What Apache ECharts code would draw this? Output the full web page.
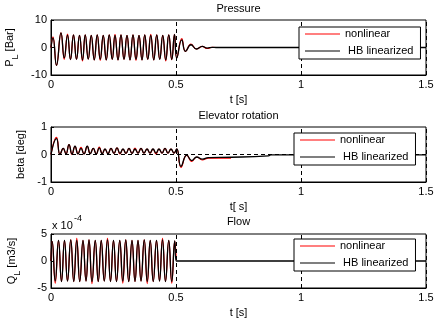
<!DOCTYPE html>
<html>
<head>
<meta charset="utf-8">
<script src="https://cdn.jsdelivr.net/npm/echarts@6/dist/echarts.min.js"></script>
<style>
  body { margin: 0; background: #fff; }
  #myChart { width: 439px; height: 321px; }
</style>
</head>
<body>
<div id="myChart"></div>
<script>
// time axis ticks
const xTicks = [0, 0.5, 1, 1.5];

// pressure [Bar] -- extremes
const pressureT = [0, 0.008, 0.022, 0.040, 0.053, 0.066, 0.078, 0.090, 0.102, 0.114, 0.126, 0.137, 0.149, 0.161, 0.173,
  0.185, 0.197, 0.209, 0.221, 0.233, 0.245, 0.256, 0.268, 0.280, 0.292, 0.304, 0.316, 0.328, 0.340, 0.352, 0.364,
  0.375, 0.387, 0.399, 0.411, 0.423, 0.435, 0.447, 0.459, 0.471, 0.483, 0.494, 0.503, 0.523, 0.538, 0.560, 0.582,
  0.605, 0.625, 0.645, 0.660, 1.5];
const pressureHB = [0, 3.5, -6.5, 5.3, -3.8, 4.5, -4.4, 4.6, -4.3, 4.4, -4.5, 4.6, -4.2, 4.4, -4.5, 4.6, -4.3, 4.4,
  -4.5, 4.6, -4.3, 4.4, -4.5, 4.6, -4.3, 4.4, -4.5, 4.6, -4.3, 4.4, -4.5, 4.6, -4.3, 4.4, -4.5, 4.6, -4.3, 4.4, -4.5,
  4.6, -4.4, 4.8, -3.8, 2.8, -1.4, 1.0, -0.55, 0.4, -0.2, 0.05, 0, 0];
const pressureNL = [0, 3.9, -6.5, 5.3, -4.3, 4.9, -4.4, 4.6, -4.3, 4.4, -4.9, 4.6, -4.2, 4.4, -4.5, 4.6, -4.7, 4.4,
  -4.5, 4.6, -4.3, 4.8, -4.5, 4.6, -4.3, 4.4, -4.5, 4.6, -4.7, 4.4, -4.5, 4.6, -4.3, 4.8, -4.5, 4.6, -4.3, 4.4, -4.9,
  4.6, -4.4, 4.8, -3.8, 3.2, -1.4, 1.2, -0.55, 0.4, -0.35, 0.1, 0];

// elevator rotation beta [deg]
const betaT = [0, 0.022, 0.036, 0.049, 0.060, 0.072, 0.084, 0.096, 0.108, 0.120, 0.132, 0.145, 0.157, 0.169, 0.181,
  0.193, 0.205, 0.216, 0.228, 0.240, 0.252, 0.264, 0.276, 0.288, 0.300, 0.312, 0.324, 0.336, 0.348, 0.360, 0.372,
  0.384, 0.396, 0.408, 0.420, 0.432, 0.444, 0.456, 0.468, 0.480, 0.492, 0.503, 0.520, 0.543, 0.563, 0.583, 0.605,
  0.630, 0.720, 0.870, 0.880, 1.5];
const betaHB = [0, 0.58, 0.0, 0.22, 0.02, 0.36, 0.02, 0.3, 0.02, 0.22, 0.02, 0.3, 0.03, 0.22, 0.02, 0.24, 0.03, 0.2,
  0.03, 0.22, 0.04, 0.24, 0.04, 0.2, 0.04, 0.22, 0.04, 0.2, 0.05, 0.22, 0.05, 0.2, 0.05, 0.2, 0.05, 0.2, 0.05, 0.22,
  0.05, 0.2, 0.05, 0.2, -0.43, -0.02, -0.22, -0.09, -0.17, -0.11, -0.1, -0.05, -0.01, -0.01];
const betaNL = [0, 0.62, 0.0, 0.22, 0.02, 0.36, 0.0, 0.3, 0.02, 0.26, 0.02, 0.3, 0.03, 0.22, 0.02, 0.27, 0.03, 0.2,
  0.03, 0.22, 0.04, 0.24, 0.02, 0.2, 0.04, 0.22, 0.04, 0.23, 0.05, 0.22, 0.05, 0.2, 0.05, 0.2, 0.02, 0.2, 0.05, 0.22,
  0.05, 0.2, 0.05, 0.2, -0.47, -0.02, -0.25, -0.09, -0.2, -0.13, -0.13];

// flow Q_L [m3/s] x 1e-4
const flowT = [0, 0.005, 0.017, 0.030, 0.042, 0.054, 0.066, 0.079, 0.091, 0.103, 0.115, 0.128, 0.140, 0.152, 0.164,
  0.177, 0.189, 0.201, 0.213, 0.226, 0.238, 0.250, 0.262, 0.275, 0.287, 0.299, 0.311, 0.324, 0.336, 0.348, 0.360,
  0.373, 0.385, 0.397, 0.409, 0.422, 0.434, 0.446, 0.458, 0.471, 0.483, 0.495, 0.501, 1.5];
const flowHB = [0, 3.6, -3.7, 3.8, -3.8, 3.8, -3.7, 3.9, -3.8, 3.8, -3.8, 3.8, -3.7, 3.9, -3.8, 3.8, -3.8, 3.8, -3.7,
  3.9, -3.8, 3.8, -3.8, 3.8, -3.7, 3.9, -3.8, 3.8, -3.8, 3.8, -3.7, 3.9, -3.8, 3.8, -3.8, 3.8, -3.7, 3.9, -3.8, 3.8,
  -3.8, 3.7, 0, 0];
const flowNL = [0, 3.6, -4.1, 3.8, -3.8, 3.8, -3.7, 3.9, -3.8, 4.2, -3.8, 3.8, -3.7, 3.9, -4.2, 3.8, -3.8, 3.8, -3.7,
  4.2, -3.8, 3.8, -3.8, 3.8, -4.1, 3.9, -3.8, 3.8, -3.8, 3.8, -3.7, 3.9, -4.2, 3.8, -3.8, 3.8, -3.7, 4.2, -3.8, 3.8,
  -4.1, 3.7, 0.2];

const yTicks = [[-10, 0, 10], [-1, 0, 1], [-5, 0, 5]];
const titles = ['Pressure', 'Elevator rotation', 'Flow'];
const xNames = ['t [s]', 't[ s]', 't [s]'];
const yNames = ['{a|P}{s|L}{a| [Bar]}', '{a|beta [deg]}', '{a|Q}{s|L}{a| [m3/s]}'];

const FONT = '"Liberation Sans", Arial, sans-serif';

function pairs(t, v) {
  let out = [];
  for (let i = 0; i < v.length; i++) out.push([t[i], v[i]]);
  return out;
}

const panels = [
  {top: 20, height: 55, nameGap: 31, legendLeft: 299, legendTop: 27, t: pressureT, hb: pressureHB, nl: pressureNL},
  {top: 127, height: 55, nameGap: 22, legendLeft: 294, legendTop: 133, t: betaT, hb: betaHB, nl: betaNL},
  {top: 234, height: 54, nameGap: 29, legendLeft: 294, legendTop: 239, t: flowT, hb: flowHB, nl: flowNL}
];

let option = {
  animation: false,
  backgroundColor: '#fff',
  textStyle: {fontFamily: FONT},
  grid: [], xAxis: [], yAxis: [], series: [], legend: [], graphic: []
};

panels.forEach((p, i) => {
  option.grid.push({
    left: 51, top: p.top, width: 375, height: p.height, outerBoundsMode: 'none', containLabel: false,
    show: true, borderColor: '#000', borderWidth: 1, backgroundColor: '#fff'
  });
  option.xAxis.push({
    gridIndex: i, type: 'value', min: xTicks[0], max: xTicks[xTicks.length - 1], interval: 0.5,
    name: xNames[i], nameLocation: 'middle', nameGap: 19,
    nameTextStyle: {color: '#000', fontSize: 11, fontFamily: FONT},
    axisLine: {show: true, onZero: false, lineStyle: {color: '#000', width: 1}},
    axisTick: {show: true, inside: true, length: 3, lineStyle: {color: '#000'}},
    axisLabel: {color: '#000', fontSize: 11, margin: 4, fontFamily: FONT},
    splitLine: {show: false}
  });
  const yt = yTicks[i];
  option.yAxis.push({
    gridIndex: i, type: 'value', min: yt[0], max: yt[2], interval: yt[2],
    name: yNames[i], nameLocation: 'middle', nameGap: p.nameGap,
    nameTextStyle: {
      color: '#000', fontFamily: FONT,
      rich: {
        a: {fontSize: 11, fontFamily: FONT, color: '#000', lineHeight: 12, verticalAlign: 'top'},
        s: {fontSize: 9, fontFamily: FONT, color: '#000', lineHeight: 16, verticalAlign: 'bottom'}
      }
    },
    axisLine: {show: true, lineStyle: {color: '#000', width: 1}},
    axisTick: {show: true, inside: true, length: 3, lineStyle: {color: '#000'}},
    axisLabel: {color: '#000', fontSize: 11, margin: 4, fontFamily: FONT},
    splitLine: {show: false}
  });

  let marks = [{xAxis: 0.5}, {xAxis: 1}, {xAxis: 1.5}];
  if (i === 1) marks.push({yAxis: 0});

  option.series.push({
    name: 'nonlinear', type: 'line', xAxisIndex: i, yAxisIndex: i,
    data: pairs(p.t, p.nl), symbol: 'none', smooth: 0.5,
    lineStyle: {color: '#ff0000', width: 1.2}, itemStyle: {color: '#ff0000'}, z: 2
  });
  option.series.push({
    name: 'HB linearized', type: 'line', xAxisIndex: i, yAxisIndex: i,
    data: pairs(p.t, p.hb), symbol: 'none', smooth: 0.5,
    lineStyle: {color: '#000', width: 1.3}, itemStyle: {color: '#000'}, z: 3,
    markLine: {
      silent: true, symbol: ['none', 'none'], label: {show: false},
      lineStyle: {color: '#000', width: 1, type: [4, 3]},
      data: marks
    }
  });

  option.legend.push({
    left: p.legendLeft, top: p.legendTop, orient: 'vertical', z: 20,
    data: [
      {name: 'nonlinear', icon: 'path://M0,0H35V1H0Z', itemStyle: {color: '#ff0000', borderWidth: 0}},
      {name: 'HB linearized', icon: 'path://M0,0H35V1H0Z', itemStyle: {color: '#000', borderWidth: 0}}
    ],
    backgroundColor: '#fff', borderColor: '#000', borderWidth: 1, borderRadius: 0,
    padding: [1, 7, 2, 6], itemGap: 5, itemWidth: 35, itemHeight: 1,
    selectedMode: false,
    formatter: name => name === 'HB linearized' ? ' HB linearized' : name,
    textStyle: {color: '#000', fontSize: 11, fontFamily: FONT, lineHeight: 12}
  });

  option.graphic.push({
    type: 'text', x: 238.5, y: [9, 116, 222][i],
    style: {text: titles[i], fill: '#000', font: '11px ' + FONT, textAlign: 'center', textVerticalAlign: 'middle'}
  });
});

// exponent label of the flow axis
option.graphic.push({
  type: 'text', x: 52, y: 226,
  style: {text: 'x 10', fill: '#000', font: '11px ' + FONT, textAlign: 'left', textVerticalAlign: 'middle'}
});
option.graphic.push({
  type: 'text', x: 74, y: 219,
  style: {text: '-4', fill: '#000', font: '9px ' + FONT, textAlign: 'left', textVerticalAlign: 'middle'}
});

let myChart = echarts.init(document.getElementById('myChart'));
myChart.setOption(option, true);
</script>
</body>
</html>
